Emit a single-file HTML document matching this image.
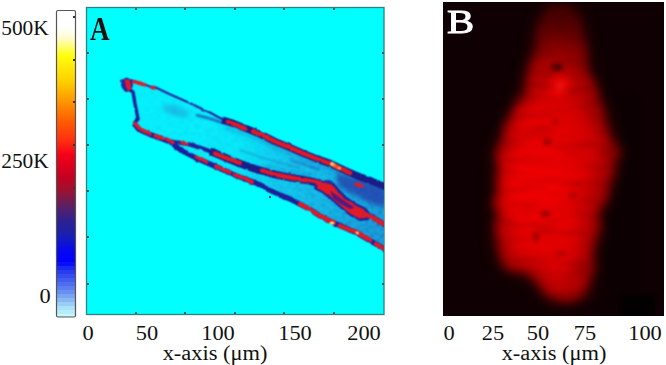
<!DOCTYPE html>
<html><head><meta charset="utf-8">
<style>
html,body{margin:0;padding:0;background:#fff;}
body{width:666px;height:365px;overflow:hidden;position:relative;font-family:"Liberation Serif",serif;}
svg{position:absolute;left:0;top:0;}
.c{position:absolute;font-family:"Liberation Serif",serif;font-size:20px;color:#111;line-height:1;white-space:nowrap;transform:translateX(-50%) scaleX(1.12);}
.t{position:absolute;font-family:"Liberation Serif",serif;font-size:20px;color:#111;line-height:1;white-space:nowrap;}
</style></head>
<body>
<svg width="666" height="365" viewBox="0 0 666 365">
<defs>
<linearGradient id="cb" x1="0" y1="10" x2="0" y2="317" gradientUnits="userSpaceOnUse">
<stop offset="0.0000" stop-color="#ffffff"/>
<stop offset="0.0554" stop-color="#ffffff"/>
<stop offset="0.0912" stop-color="#fffcd0"/>
<stop offset="0.1466" stop-color="#ffff10"/>
<stop offset="0.2313" stop-color="#ffd000"/>
<stop offset="0.2932" stop-color="#ff9a00"/>
<stop offset="0.3583" stop-color="#ff6000"/>
<stop offset="0.4235" stop-color="#ff3010"/>
<stop offset="0.4723" stop-color="#f40018"/>
<stop offset="0.5375" stop-color="#c80020"/>
<stop offset="0.5863" stop-color="#a01030"/>
<stop offset="0.6352" stop-color="#602060"/>
<stop offset="0.6840" stop-color="#302090"/>
<stop offset="0.7329" stop-color="#1820b0"/>
<stop offset="0.7818" stop-color="#0808f0"/>
<stop offset="0.8208" stop-color="#0000ff"/>
<stop offset="0.8208" stop-color="#090efb"/>
<stop offset="0.8339" stop-color="#090efb"/>
<stop offset="0.8339" stop-color="#1b29f2"/>
<stop offset="0.8469" stop-color="#1b29f2"/>
<stop offset="0.8469" stop-color="#293cf0"/>
<stop offset="0.8599" stop-color="#293cf0"/>
<stop offset="0.8599" stop-color="#354cf0"/>
<stop offset="0.8730" stop-color="#354cf0"/>
<stop offset="0.8730" stop-color="#425df0"/>
<stop offset="0.8860" stop-color="#425df0"/>
<stop offset="0.8860" stop-color="#4e6ef0"/>
<stop offset="0.8990" stop-color="#4e6ef0"/>
<stop offset="0.8990" stop-color="#5b7ff0"/>
<stop offset="0.9121" stop-color="#5b7ff0"/>
<stop offset="0.9121" stop-color="#6890f0"/>
<stop offset="0.9251" stop-color="#6890f0"/>
<stop offset="0.9251" stop-color="#78a4f2"/>
<stop offset="0.9381" stop-color="#78a4f2"/>
<stop offset="0.9381" stop-color="#88b8f4"/>
<stop offset="0.9511" stop-color="#88b8f4"/>
<stop offset="0.9511" stop-color="#99cdf6"/>
<stop offset="0.9642" stop-color="#99cdf6"/>
<stop offset="0.9642" stop-color="#aae1f8"/>
<stop offset="0.9772" stop-color="#aae1f8"/>
<stop offset="0.9772" stop-color="#b7ecfa"/>
<stop offset="0.9902" stop-color="#b7ecfa"/>
<stop offset="0.9902" stop-color="#c5f7fc"/>
<stop offset="1.0000" stop-color="#c5f7fc"/>
</linearGradient>
<linearGradient id="fib" x1="120" y1="80" x2="384" y2="200" gradientUnits="userSpaceOnUse">
<stop offset="0" stop-color="#06f2fc"/>
<stop offset="0.3" stop-color="#08eefc"/>
<stop offset="0.47" stop-color="#08e8f8"/>
<stop offset="0.66" stop-color="#12cef0"/>
<stop offset="0.8" stop-color="#14c4ea"/>
<stop offset="1" stop-color="#18a8dc"/>
</linearGradient>
<linearGradient id="dmask" x1="120" y1="80" x2="384" y2="220" gradientUnits="userSpaceOnUse">
<stop offset="0" stop-color="#fff" stop-opacity="0.15"/>
<stop offset="0.5" stop-color="#fff" stop-opacity="0.3"/>
<stop offset="1" stop-color="#fff" stop-opacity="0.6"/>
</linearGradient>
<linearGradient id="lmask" x1="120" y1="80" x2="384" y2="220" gradientUnits="userSpaceOnUse">
<stop offset="0" stop-color="#fff" stop-opacity="1"/>
<stop offset="0.5" stop-color="#fff" stop-opacity="0.7"/>
<stop offset="1" stop-color="#fff" stop-opacity="0.1"/>
</linearGradient>
<mask id="lm" maskUnits="userSpaceOnUse" x="0" y="0" width="666" height="365"><rect x="100" y="60" width="300" height="210" fill="url(#lmask)"/></mask>
<mask id="dm" maskUnits="userSpaceOnUse" x="0" y="0" width="666" height="365"><rect x="100" y="60" width="300" height="210" fill="url(#dmask)"/></mask>
<filter color-interpolation-filters="sRGB" id="mottleL" x="0" y="0" width="100%" height="100%">
<feTurbulence type="fractalNoise" baseFrequency="0.12 0.2" numOctaves="3" seed="4"/>
<feColorMatrix type="matrix" values="0 0 0 0 0.6  0 0 0 0 0.95  0 0 0 0 0.99  3 0 0 0 -1.35"/>
</filter>
<filter color-interpolation-filters="sRGB" id="mottleN" x="0" y="0" width="100%" height="100%">
<feTurbulence type="fractalNoise" baseFrequency="0.35 0.45" numOctaves="2" seed="21"/>
<feColorMatrix type="matrix" values="0 0 0 0 0.12  0 0 0 0 0.25  0 0 0 0 0.7  0 3 0 0 -1.35"/>
</filter>
<linearGradient id="nmask" x1="240" y1="0" x2="384" y2="0" gradientUnits="userSpaceOnUse">
<stop offset="0" stop-color="#fff" stop-opacity="0"/>
<stop offset="0.5" stop-color="#fff" stop-opacity="0.6"/>
<stop offset="1" stop-color="#fff" stop-opacity="1"/>
</linearGradient>
<mask id="nm" maskUnits="userSpaceOnUse" x="0" y="0" width="666" height="365"><rect x="100" y="60" width="300" height="210" fill="url(#nmask)"/></mask>
<filter color-interpolation-filters="sRGB" id="mottleD" x="0" y="0" width="100%" height="100%">
<feTurbulence type="fractalNoise" baseFrequency="0.18 0.28" numOctaves="2" seed="11"/>
<feColorMatrix type="matrix" values="0 0 0 0 0.06  0 0 0 0 0.62  0 0 0 0 0.85  0 2.5 0 0 -1.1"/>
</filter>
<filter id="blurB" x="-20%" y="-20%" width="140%" height="140%"><feGaussianBlur stdDeviation="3.5"/></filter>
<filter color-interpolation-filters="sRGB" id="wob" x="-5%" y="-5%" width="110%" height="110%">
<feTurbulence type="fractalNoise" baseFrequency="0.15" numOctaves="2" seed="9" result="t"/>
<feDisplacementMap in="SourceGraphic" in2="t" scale="2.5" xChannelSelector="R" yChannelSelector="G" result="d"/>
<feConvolveMatrix in="d" order="3" kernelMatrix="1 2 1 2 4 2 1 2 1" divisor="16" edgeMode="none"/>
</filter>
<filter color-interpolation-filters="sRGB" id="blur2" x="-20%" y="-20%" width="140%" height="140%"><feGaussianBlur stdDeviation="2"/></filter>
<filter color-interpolation-filters="sRGB" id="blur1"><feGaussianBlur stdDeviation="0.8"/></filter>
</defs>

<!-- colorbar -->
<rect x="56.5" y="10.5" width="19" height="306.5" rx="1.5" fill="url(#cb)" stroke="#555" stroke-width="1.2"/>
<g fill="#333">
<rect x="73" y="16" width="2" height="2"/>
<rect x="73" y="59" width="2" height="2"/>
<rect x="73" y="101" width="2" height="2"/>
<rect x="73" y="144" width="2" height="2"/>
<rect x="73" y="187" width="2" height="2"/>
</g>

<!-- panel A -->
<rect x="86.5" y="7.5" width="297.5" height="307" fill="#00ffff" stroke="#2f8080" stroke-width="1.3"/>
<g fill="#2a5a60">
<rect x="87" y="52" width="2" height="2"/>
<rect x="87" y="98" width="2" height="2"/>
<rect x="87" y="144" width="2" height="2"/>
<rect x="87" y="190" width="2" height="2"/>
<rect x="87" y="236" width="2" height="2"/>
<rect x="87" y="283" width="2" height="2"/>
<rect x="135" y="312" width="2" height="2"/>
<rect x="184" y="312" width="2" height="2"/>
<rect x="234" y="312" width="2" height="2"/>
<rect x="283" y="312" width="2" height="2"/>
<rect x="333" y="312" width="2" height="2"/>
<rect x="382" y="52" width="2" height="2"/><rect x="382" y="98" width="2" height="2"/><rect x="382" y="144" width="2" height="2"/><rect x="382" y="190" width="2" height="2"/><rect x="382" y="236" width="2" height="2"/><rect x="382" y="283" width="2" height="2"/><rect x="135" y="8" width="2" height="2"/><rect x="184" y="8" width="2" height="2"/><rect x="234" y="8" width="2" height="2"/><rect x="283" y="8" width="2" height="2"/><rect x="333" y="8" width="2" height="2"/>
</g>

<!-- fiber -->
<clipPath id="clipA"><rect x="87" y="8" width="297" height="306"/></clipPath>
<clipPath id="clipF"><path d="M121,81 L126,78.5 L132,80.5 L139,83 L146,85 L151,87 L155,87 L161,90 L170.5,94.5 L184,100.5 L191,103.5 L198,107 L210,112.5 L220,117.5 L233.7,122.5 L247.4,128 L261,133.5 L275,140 L288.7,145.5 L302.4,151.5 L316,157 L330,160 L343.7,166.5 L357.4,173 L371,178.5 L386,184.5 L386,251 L356,233.5 L334,223 L320,216 L310,210 L290,200 L280,196 L266,189.5 L255,184 L236,176.5 L222.4,170.5 L208.7,164.5 L195,158 L180.5,151 L173,144 L168,141 L160,138 L150,134.5 L139,129.5 L134,123.5 L138,119 L136.5,111 L135,104 L134,97.5 L133,92 L124,89 Z"/></clipPath>
<g clip-path="url(#clipA)">
<g filter="url(#blur1)">
<path d="M121,81 L126,78.5 L132,80.5 L139,83 L146,85 L151,87 L155,87 L161,90 L170.5,94.5 L184,100.5 L191,103.5 L198,107 L210,112.5 L220,117.5 L233.7,122.5 L247.4,128 L261,133.5 L275,140 L288.7,145.5 L302.4,151.5 L316,157 L330,160 L343.7,166.5 L357.4,173 L371,178.5 L386,184.5 L386,251 L356,233.5 L334,223 L320,216 L310,210 L290,200 L280,196 L266,189.5 L255,184 L236,176.5 L222.4,170.5 L208.7,164.5 L195,158 L180.5,151 L173,144 L168,141 L160,138 L150,134.5 L139,129.5 L134,123.5 L138,119 L136.5,111 L135,104 L134,97.5 L133,92 L124,89 Z" fill="url(#fib)"/>
<g clip-path="url(#clipF)">
<rect x="110" y="70" width="280" height="190" filter="url(#mottleD)" opacity="0.8" mask="url(#dm)"/>
<path d="M336,172 L352,177 L366,181 L386,188 L386,207 L372,204 L360,198 L348,192 L338,186 Z" fill="#2838a8" opacity="0.75" filter="url(#blur2)"/>
<rect x="110" y="70" width="280" height="190" filter="url(#mottleN)" opacity="0.6" mask="url(#nm)"/>
<ellipse cx="176" cy="111" rx="14" ry="5" transform="rotate(18 176 111)" fill="#2890d4" opacity="0.5" filter="url(#blur2)"/>
<path d="M196,115 L208,118 L222,122.5" stroke="#2030a0" stroke-width="2.2" fill="none" opacity="0.85"/>
<path d="M225,126 L247.4,134 L261,139.5 L275,146.5 L288.7,152 L302.4,158 L316,163.5 L335,170" stroke="#1a80cc" stroke-width="5" fill="none" opacity="0.45" filter="url(#blur2)"/>
<path d="M262,166 L285,171 L310,176" stroke="#1a80cc" stroke-width="4" fill="none" opacity="0.35" filter="url(#blur2)"/>
<path d="M290,160 L320,170" stroke="#2a50b0" stroke-width="2" fill="none" opacity="0.5"/>
<path d="M240,150 L270,160 L300,168" stroke="#2a50b0" stroke-width="1.5" fill="none" opacity="0.4"/>
</g>
</g>
<g filter="url(#wob)">
<path d="M121,81 L126,78.5 L132,80.5 L139,83 L146,85 L151,87 L155,87 L161,90 L170.5,94.5 L184,100.5 L191,103.5 L198,107 L210,112.5 L218,117 L226,121" fill="none" stroke="#2a2aa4" stroke-width="2.3" stroke-linejoin="round" stroke-linecap="round"/>
<path d="M222,120 L233.7,123.5 L247.4,129 L261,134.5 L275,141.5 L288.7,147 L302.4,153 L316,158.5 L330,163.5 L343.7,170 L357.4,176 L371,181 L386,187" fill="none" stroke="#1c1c88" stroke-width="7.2" stroke-linejoin="round"/>
<path d="M124,85 L133,92 L134,97.5 L135,104 L136.5,111 L138,119 L134,123.5" fill="none" stroke="#1e1e98" stroke-width="3.4" stroke-linejoin="round"/>
<path d="M134,123.5 L139,129.5 L150,134.5 L160,138 L168,141 L173,144 L180.5,150 L195,157.5 L208.7,163.5 L222.4,169.5 L236,175.6 L255,182.5 L266,188.5 L280,195 L290,199 L310,209.5 L320,216 L334,223 L356,232.5 L386,250" fill="none" stroke="#1e1e98" stroke-width="5.2" stroke-linejoin="round"/>
<path d="M168,141 L175,142 L187,143.8 L201,147.9 L212,152" fill="none" stroke="#22229a" stroke-width="4.2" stroke-linejoin="round"/>
<path d="M210,151.5 L212.8,152.3 L229.2,159.2 L243,164.7 L255,168.8 L275,174.5 L290,177.5 L310,181 L322,184" fill="none" stroke="#1c1c88" stroke-width="7.6" stroke-linejoin="round"/>
<path d="M358,210 L370,216 L386,225" fill="none" stroke="#22229a" stroke-width="5" stroke-linejoin="round"/>
<path d="M316,179 L326,180 L334,183 L340,190 L347,197 L356,203 L366,208 L370,213 L369,220 L360,221 L350,216 L340,208 L331,200 L322,193 L314,189 Z" fill="#22229a"/>
<path d="M318,181 L326,182 L333,185.5 L338,192 L345,199 L355,205 L364,209.5 L367,214 L366,218 L359,218.5 L350,213.5 L341,206 L332,198 L323,191.5 L317,188 Z" fill="#e01a26"/>
<path d="M330,191 L338,196 L346,202 L354,207 L350,209 L341,204 L333,198 Z" fill="#3a1a90" opacity="0.85"/>
<ellipse cx="127" cy="84.5" rx="6" ry="6.5" fill="#2626a0"/>
<g fill="none" stroke="#e01a28" stroke-width="3.6" stroke-linecap="round" stroke-linejoin="round">
<path d="M126.5,81 L128,87"/>
<path d="M128.5,81 L129.5,88.5"/>
<path d="M134,81.5 L145,85"/>
<path d="M152,87.5 L155,88"/>
<path d="M135,123.5 L140,129 L150,134"/>
<path d="M155,135.5 L163,138.5"/>
<path d="M167,139.5 L173,142.5"/>
<path d="M182,142.5 L187,143.8"/>
<path d="M197,157 L207,162"/>
<path d="M216,166.5 L230,172.5"/>
<path d="M234,174.5 L252,181.5"/>
<path d="M356,184 L362,186"/>
</g>
<g fill="none" stroke="#e01a28" stroke-width="4.4" stroke-linecap="round" stroke-linejoin="round">
<path d="M228,122 L233.7,124 L245,128.5"/>
<path d="M253,131.5 L261,134.5 L275,141.5 L288.7,147 L302.4,153 L316,158.5 L330,163.5 L343.7,170 L350,173"/>
<path d="M215,153.5 L229.2,159.2 L240,163"/>
<path d="M262,170.5 L275,174.5 L290,177.5 L310,181 L320,183"/>
<path d="M300,204 L310,209.5 L320,216 L334,222.5"/>
<path d="M340,226 L356,232 L370,240"/>
<path d="M376,244 L384,249"/>
<path d="M363,213 L372,217.5 L384,224"/>
</g>
<g fill="#ffe060">
<ellipse cx="333" cy="164.5" rx="3" ry="2" transform="rotate(25 333 164.5)"/>
<ellipse cx="339" cy="168" rx="2" ry="1.6"/>
<ellipse cx="332" cy="223" rx="2.5" ry="1.5"/>
<ellipse cx="357" cy="233" rx="1.8" ry="1.5"/>
</g>
<g fill="#ff5a20">
<ellipse cx="336" cy="166.5" rx="4" ry="2.2" transform="rotate(25 336 166.5)" opacity="0.7"/>
</g>
</g>
</g>
<circle cx="270" cy="197" r="1.2" fill="#2a4a90"/>

<!-- panel B -->
<linearGradient id="blobg" x1="0" y1="0" x2="0" y2="1">
<stop offset="0" stop-color="#400000"/>
<stop offset="0.1" stop-color="#600000"/>
<stop offset="0.25" stop-color="#a00000"/>
<stop offset="0.6" stop-color="#c00000"/>
<stop offset="1" stop-color="#a80000"/>
</linearGradient>
<linearGradient id="coreg" x1="0" y1="0" x2="0" y2="1">
<stop offset="0" stop-color="#600000"/>
<stop offset="0.12" stop-color="#a00000"/>
<stop offset="0.3" stop-color="#e00000"/>
<stop offset="0.6" stop-color="#f00404"/>
<stop offset="0.85" stop-color="#e40000"/>
<stop offset="1" stop-color="#d00000"/>
</linearGradient>
<linearGradient id="rdark" x1="0" y1="0" x2="1" y2="0">
<stop offset="0" stop-color="#000" stop-opacity="0"/>
<stop offset="0.5" stop-color="#000" stop-opacity="0.12"/>
<stop offset="1" stop-color="#000" stop-opacity="0.3"/>
</linearGradient>
<radialGradient id="hi" cx="560" cy="87" r="16" gradientUnits="userSpaceOnUse">
<stop offset="0" stop-color="#ff1010" stop-opacity="0.95"/>
<stop offset="1" stop-color="#ff0000" stop-opacity="0"/>
</radialGradient>
<filter id="noiseB" x="0" y="0" width="100%" height="100%">
<feTurbulence type="fractalNoise" baseFrequency="0.025 0.14" numOctaves="3" seed="7"/>
<feColorMatrix type="matrix" values="0 0 0 0 0.1  0 0 0 0 0  0 0 0 0 0  2.8 0 0 0 -1.3"/>
</filter>
<filter id="blurH" x="-30%" y="-30%" width="160%" height="160%"><feGaussianBlur stdDeviation="9"/></filter>
<filter id="blurS"><feGaussianBlur stdDeviation="2"/></filter>
<filter id="ragged" x="-20%" y="-20%" width="140%" height="140%">
<feTurbulence type="fractalNoise" baseFrequency="0.05" numOctaves="3" seed="5" result="t"/>
<feDisplacementMap in="SourceGraphic" in2="t" scale="18" xChannelSelector="R" yChannelSelector="G" result="d"/>
<feGaussianBlur in="d" stdDeviation="5.5"/>
</filter>
<filter id="ragged2" x="-20%" y="-20%" width="140%" height="140%">
<feTurbulence type="fractalNoise" baseFrequency="0.04" numOctaves="3" seed="12" result="t"/>
<feDisplacementMap in="SourceGraphic" in2="t" scale="20" xChannelSelector="R" yChannelSelector="G" result="d"/>
<feGaussianBlur in="d" stdDeviation="8"/>
</filter>
<clipPath id="clipB"><rect x="443" y="2" width="221" height="314"/></clipPath>
<clipPath id="clipBlob"><path d="M548,11 L562,8 L576,11 L580,22 L583,44 L585,66 L593,88 L603,110 L612,132 L618,152 L613,172 L603,196 L598,219 L595,242 L593,265 L591,285 L587,296 L575,300 L550,299 L541,292 L538,279 L525,273 L508,268 L500,260 L498,242 L498,219 L498,196 L498,173 L497,152 L507,132 L516,110 L526,88 L532,66 L537,44 L542,22 Z"/></clipPath>
<rect x="443" y="2" width="221" height="314" fill="#0f0003"/>
<g clip-path="url(#clipB)">
<path d="M548,11 L562,8 L576,11 L580,22 L583,44 L585,66 L593,88 L603,110 L612,132 L618,152 L613,172 L603,196 L598,219 L595,242 L593,265 L591,285 L587,296 L575,300 L550,299 L541,292 L538,279 L525,273 L508,268 L500,260 L498,242 L498,219 L498,196 L498,173 L497,152 L507,132 L516,110 L526,88 L532,66 L537,44 L542,22 Z" fill="#700000" filter="url(#blurH)" opacity="0.6"/>
<path d="M548,11 L562,8 L576,11 L580,22 L583,44 L585,66 L593,88 L603,110 L612,132 L618,152 L613,172 L603,196 L598,219 L595,242 L593,265 L591,285 L587,296 L575,300 L550,299 L541,292 L538,279 L525,273 L508,268 L500,260 L498,242 L498,219 L498,196 L498,173 L497,152 L507,132 L516,110 L526,88 L532,66 L537,44 L542,22 Z" fill="url(#blobg)" filter="url(#ragged)"/>
<path d="M553,28 L570,28 L575,50 L578,75 L586,100 L596,125 L603,150 L598,172 L590,196 L585,220 L582,245 L580,270 L575,286 L555,288 L548,280 L545,268 L528,262 L512,256 L509,240 L508,215 L508,190 L508,165 L512,140 L522,115 L532,90 L540,65 L546,45 Z" fill="url(#coreg)" filter="url(#ragged2)"/>
<circle cx="560" cy="87" r="16" fill="url(#hi)"/>
<rect x="560" y="90" width="80" height="230" fill="url(#rdark)" filter="url(#blurH)"/>
<g filter="url(#blur2)"><g clip-path="url(#clipBlob)"><rect x="480" y="0" width="150" height="316" filter="url(#noiseB)" opacity="0.25"/></g></g>
<g fill="#700000" filter="url(#blurS)" opacity="0.8">
<ellipse cx="557" cy="67" rx="6" ry="3.5" fill="#300000"/>
<ellipse cx="555" cy="122" rx="2.5" ry="2"/>
<ellipse cx="547.5" cy="142" rx="3.5" ry="3"/>
<ellipse cx="572.5" cy="195" rx="3" ry="2"/>
<ellipse cx="545.5" cy="214" rx="4.5" ry="2.5"/>
<ellipse cx="536" cy="237" rx="2" ry="5"/>
<ellipse cx="561" cy="254" rx="6" ry="1.5" opacity="0.6"/>
</g>
<rect x="623" y="296" width="32" height="22" fill="#020000" filter="url(#blur2)"/>
</g>
<rect x="442.5" y="316" width="222" height="1.5" fill="#fff"/>
</svg>

<div class="t" style="left:90px;top:12.5px;font-weight:bold;font-size:33px;color:#1a1010;transform:scaleX(0.82);transform-origin:0 0;">A</div>
<div class="t" style="left:446.5px;top:5px;font-size:34px;color:#fff;-webkit-text-stroke:0.9px #fff;transform:scaleX(1.2);transform-origin:0 0;">B</div>
<div class="c" style="left:25px;top:18px;transform:translateX(-50%) scaleX(1.07);">500K</div>
<div class="c" style="left:24.5px;top:151px;transform:translateX(-50%) scaleX(1.07);">250K</div>
<div class="c" style="left:44.5px;top:286px;">0</div>
<div class="c" style="left:87.9px;top:323px;">0</div>
<div class="c" style="left:147.1px;top:323px;">50</div>
<div class="c" style="left:218.0px;top:323px;">100</div>
<div class="c" style="left:294.6px;top:323px;">150</div>
<div class="c" style="left:364.2px;top:323px;">200</div>
<div class="c" style="left:215px;top:342.5px;">x-axis (μm)</div>
<div class="c" style="left:449.3px;top:323px;">0</div>
<div class="c" style="left:492.6px;top:323px;">25</div>
<div class="c" style="left:538.4px;top:323px;">50</div>
<div class="c" style="left:585.4px;top:323px;">75</div>
<div class="c" style="left:645.0px;top:323px;">100</div>
<div class="c" style="left:553.5px;top:342.5px;">x-axis (μm)</div>
</body></html>
